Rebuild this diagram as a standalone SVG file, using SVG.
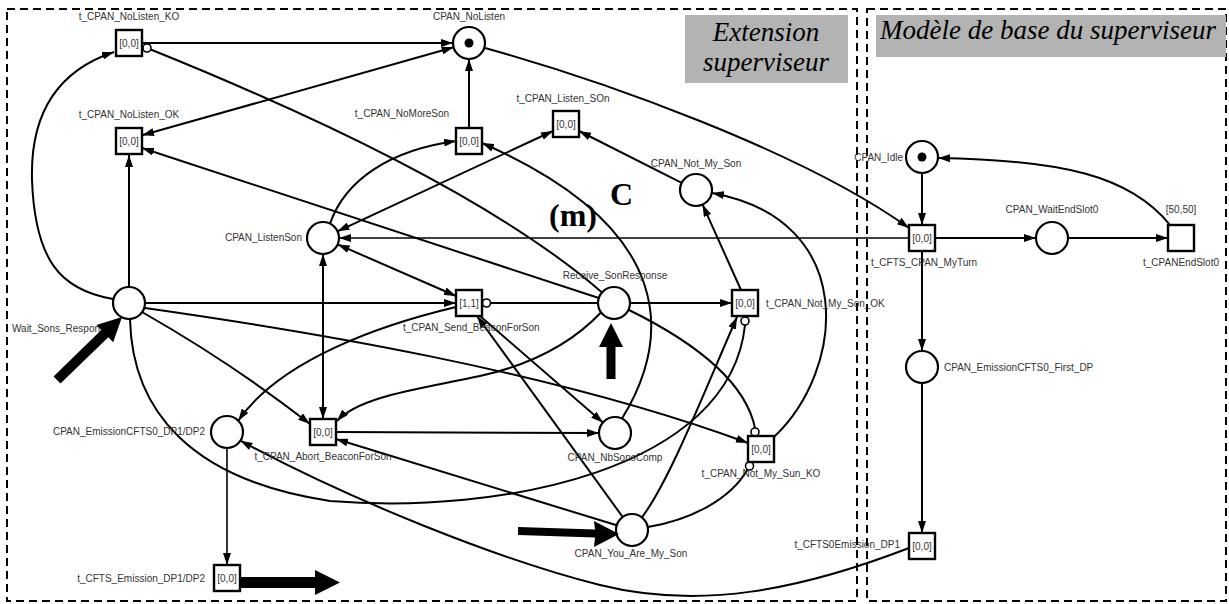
<svg xmlns="http://www.w3.org/2000/svg" width="1229" height="604" viewBox="0 0 1229 604">
<defs>
<style>
.arc{fill:none;stroke:#000;stroke-width:2}
.thin{stroke-width:1.6}
.a{marker-end:url(#ah)}
.b{marker-start:url(#ah);marker-end:url(#ah)}
.inh{fill:#fff;stroke:#000;stroke-width:1.6}
.place{fill:#fff;stroke:#000;stroke-width:2.2}
.trans{fill:#fff;stroke:#000;stroke-width:2.4}
.tok{fill:#000}
.lbl{font-family:"Liberation Sans",Arial,sans-serif;font-size:10px;fill:#333}
.m{text-anchor:middle}
.e{text-anchor:end}
.frame{fill:none;stroke:#000;stroke-width:2;stroke-dasharray:8 5}
.gbox{fill:#b3b3b3}
.title{font-family:"Liberation Serif","Times New Roman",serif;font-style:italic;font-size:27px;fill:#000}
.big{font-family:"Liberation Serif","Times New Roman",serif;font-weight:bold;font-size:32px;fill:#000}
.fat{fill:#000}
</style>
<marker id="ah" viewBox="0 0 12 8" refX="12" refY="4" markerWidth="12" markerHeight="8" markerUnits="userSpaceOnUse" orient="auto-start-reverse"><path d="M0,0 L12,4 L0,8 Z" fill="#000"/></marker>
</defs>
<rect width="1229" height="604" fill="#fff"/>

<g id="frames">
<rect class="frame" x="7" y="9" width="850" height="592"/>
<rect class="frame" x="867" y="9" width="359" height="592"/>
<rect class="gbox" x="685" y="15" width="163" height="68"/>
<text class="title" x="766" y="41" text-anchor="middle">Extension</text>
<text class="title" x="766" y="71" text-anchor="middle">superviseur</text>
<rect class="gbox" x="876" y="15" width="350" height="42"/>
<text class="title" x="880" y="39">Modèle de base du superviseur</text>
</g>

<g id="connectors">
<path class="arc a" d="M142,43 L453,43"/>
<path class="arc a" d="M113,299 C60,290 35,260 32,180 C30,110 60,70 114,52"/>
<path class="arc a" d="M129,287 L129,155"/>
<path class="arc b" d="M453.6,47.3 L142,135.3"/>
<path class="arc a" d="M485,48 C600,80 800,150 909,228"/>
<path class="arc a" d="M469,127 L469,59"/>
<path class="arc a" d="M330,223.6 C345,180 390,150 456,141"/>
<path class="arc a" d="M622,418.6 C670,340 680,230 482,143"/>
<path class="arc b" d="M337.5,231.3 L553,131"/>
<path class="arc a" d="M681.7,182.8 L579,131"/>
<path class="arc a" d="M741,290 L702.6,204.6"/>
<path class="arc a" d="M774,437 C845,370 860,220 712,193"/>
<path class="arc thin a" d="M909,238 L339,238"/>
<path class="arc a" d="M935,238 L1036,238"/>
<path class="arc a" d="M1068,238 L1168,238"/>
<path class="arc a" d="M1170,225 C1130,175 1060,160 938,158"/>
<path class="arc a" d="M922,173 L922,225"/>
<path class="arc a" d="M922,251 L922,351"/>
<path class="arc a" d="M922,383 L922,533"/>
<path class="arc a" d="M909,548 C800,590 700,610 600,585 C500,560 350,500 240.4,440.7"/>
<path class="arc thin a" d="M227,448 L227,565"/>
<path class="arc a" d="M456,307 C380,325 280,360 238.3,420.7"/>
<path class="arc a" d="M145,303 L456,303"/>
<path class="arc b" d="M337.7,244.4 L456,296"/>
<path class="arc" d="M598,303 L491,303"/>
<circle class="inh" cx="486.5" cy="303" r="4"/>
<path class="arc a" d="M630,303 L732,303"/>
<path class="arc" d="M629,310 C690,340 745,380 755,428"/>
<circle class="inh" cx="755" cy="432" r="4"/>
<path class="arc" d="M602,292.4 C530,230 400,150 150.7,49.5"/>
<circle class="inh" cx="147" cy="48" r="4"/>
<path class="arc a" d="M598.8,298 L142,148"/>
<path class="arc a" d="M142,312 C200,345 260,385 310,424"/>
<path class="arc b" d="M323,254 L323,419"/>
<path class="arc a" d="M601,312.5 C570,345 530,365 480,376 C420,389 360,396 337,421"/>
<path class="arc a" d="M336,432 L599,433"/>
<path class="arc a" d="M616.7,525.3 L336,439"/>
<path class="arc a" d="M480,316 L602.9,422.5"/>
<path class="arc a" d="M622.7,517 L477,316"/>
<path class="arc a" d="M641.9,517.4 C670,480 705,390 737,317"/>
<path class="arc" d="M648,527 C690,520 730,500 747.5,469.5"/>
<circle class="inh" cx="749.5" cy="466" r="4"/>
<path class="arc" d="M130,319 C132,410 190,480 330,501 C500,515 730,470 745,325"/>
<circle class="inh" cx="745" cy="321" r="4"/>
<path class="arc a" d="M145,308 C300,330 550,370 748,443"/>
</g>

<g id="p_nolisten"><circle class="place" cx="469" cy="43" r="16"/><circle class="tok" cx="469" cy="43" r="4.5"/><text class="lbl m" x="469" y="20">CPAN_NoListen</text></g>
<g id="t_nolisten_ko"><rect class="trans" x="116" y="30" width="26" height="26"/><text class="lbl m" x="129" y="46.5">[0,0]</text><text class="lbl m" x="129" y="20">t_CPAN_NoListen_KO</text></g>
<g id="t_nolisten_ok"><rect class="trans" x="116" y="128" width="26" height="26"/><text class="lbl m" x="129" y="144.5">[0,0]</text><text class="lbl m" x="129" y="118">t_CPAN_NoListen_OK</text></g>
<g id="t_nomoreson"><rect class="trans" x="456" y="128" width="26" height="26"/><text class="lbl m" x="469" y="144.5">[0,0]</text><text class="lbl m" x="402" y="117">t_CPAN_NoMoreSon</text></g>
<g id="t_listen_son"><rect class="trans" x="553" y="111" width="26" height="26"/><text class="lbl m" x="566" y="127.5">[0,0]</text><text class="lbl m" x="563" y="102">t_CPAN_Listen_SOn</text></g>
<g id="p_not_my_son"><circle class="place" cx="696" cy="190" r="16"/><text class="lbl m" x="696" y="167">CPAN_Not_My_Son</text></g>
<g id="p_idle"><circle class="place" cx="922" cy="157" r="16"/><circle class="tok" cx="922" cy="157" r="4.5"/><text class="lbl e" x="903" y="161">CPAN_Idle</text></g>
<g id="t_myturn"><rect class="trans" x="909" y="225" width="26" height="26"/><text class="lbl m" x="922" y="241.5">[0,0]</text><text class="lbl" x="871" y="266">t_CFTS_CPAN_MyTurn</text></g>
<g id="p_waitendslot0"><circle class="place" cx="1052" cy="238" r="16"/><text class="lbl m" x="1052" y="213">CPAN_WaitEndSlot0</text></g>
<g id="t_endslot0"><rect class="trans" x="1168" y="225" width="26" height="26"/><text class="lbl m" x="1181" y="213">[50,50]</text><text class="lbl m" x="1181" y="266">t_CPANEndSlot0</text></g>
<g id="p_first_dp"><circle class="place" cx="922" cy="367" r="16"/><text class="lbl" x="944" y="371">CPAN_EmissionCFTS0_First_DP</text></g>
<g id="t_cfts0emission_dp1"><rect class="trans" x="909" y="533" width="26" height="26"/><text class="lbl m" x="922" y="549.5">[0,0]</text><text class="lbl e" x="900" y="548">t_CFTS0Emission_DP1</text></g>
<g id="p_listenson"><circle class="place" cx="323" cy="238" r="16"/><text class="lbl e" x="302" y="241">CPAN_ListenSon</text></g>
<g id="p_wait"><circle class="place" cx="129" cy="303" r="16"/><text class="lbl" x="12" y="332">Wait_Sons_Response</text></g>
<g id="t_send_beacon"><rect class="trans" x="456" y="290" width="26" height="26"/><text class="lbl m" x="469" y="306.5">[1,1]</text><text class="lbl" x="403" y="331">t_CPAN_Send_BeaconForSon</text></g>
<g id="p_receive"><circle class="place" cx="614" cy="303" r="16"/><text class="lbl m" x="615" y="279">Receive_SonResponse</text></g>
<g id="t_not_my_son_ok"><rect class="trans" x="732" y="290" width="26" height="26"/><text class="lbl m" x="745" y="306.5">[0,0]</text><text class="lbl" x="766" y="307">t_CPAN_Not_My_Son_OK</text></g>
<g id="p_dp1dp2"><circle class="place" cx="227" cy="432" r="16"/><text class="lbl e" x="205" y="435">CPAN_EmissionCFTS0_DP1/DP2</text></g>
<g id="t_abort"><rect class="trans" x="310" y="419" width="26" height="26"/><text class="lbl m" x="323" y="435.5">[0,0]</text><text class="lbl m" x="323" y="460">t_CPAN_Abort_BeaconForSon</text></g>
<g id="p_nbsonscomp"><circle class="place" cx="615" cy="433" r="16"/><text class="lbl m" x="615" y="461">CPAN_NbSonsComp</text></g>
<g id="t_not_my_sun_ko"><rect class="trans" x="748" y="436" width="26" height="26"/><text class="lbl m" x="761" y="452.5">[0,0]</text><text class="lbl m" x="761" y="477">t_CPAN_Not_My_Sun_KO</text></g>
<g id="p_you"><circle class="place" cx="632" cy="530" r="16"/><text class="lbl m" x="631" y="557">CPAN_You_Are_My_Son</text></g>
<g id="t_cfts_emission"><rect class="trans" x="214" y="565" width="26" height="26"/><text class="lbl m" x="227" y="581.5">[0,0]</text><text class="lbl e" x="205" y="582">t_CFTS_Emission_DP1/DP2</text></g>

<g id="annotations">
<text class="big" x="549" y="226">(m)</text>
<text class="big" x="610" y="205">C</text>
<polygon class="fat" points="53.5,376.4 101.3,330.1 96.4,325.1 122,317 113.2,342.3 108.3,337.3 60.5,383.6"/>
<polygon class="fat" points="606.5,379 606.5,347 599,347 611,323 623,347 615.5,347 615.5,379"/>
<polygon class="fat" points="518,527 595,529.5 594,521 619,534 594,547 595,537.5 518,535"/>
<polygon class="fat" points="240,577 315,577 315,570 340,582.5 315,595 315,588 240,588"/>
</g>
</svg>
